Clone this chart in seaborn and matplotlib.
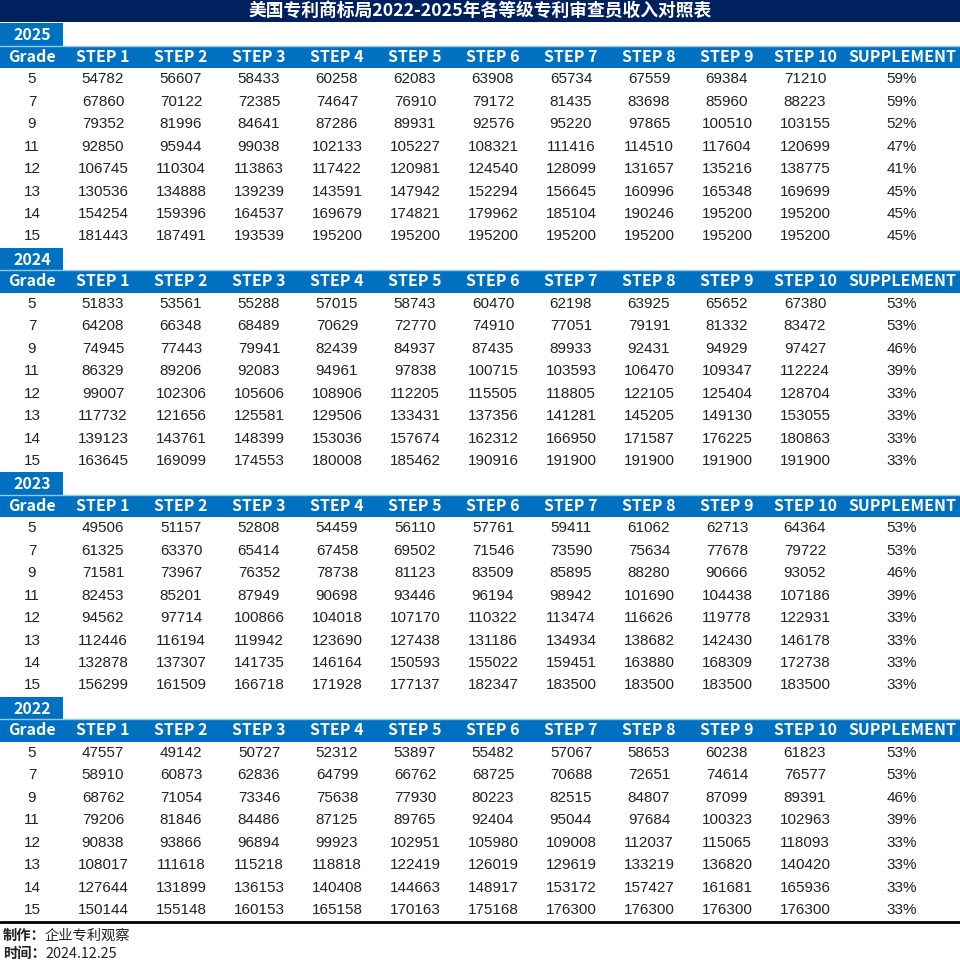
import numpy as np
import pandas as pd
import matplotlib
import matplotlib.pyplot as plt
import seaborn as sns
from matplotlib.colors import ListedColormap
from matplotlib.patches import Rectangle

sns.set_theme(style="white")
plt.rcParams["font.family"] = ["Liberation Sans", "Noto Sans CJK SC", "DejaVu Sans"]

title = "美国专利商标局2022-2025年各等级专利审查员收入对照表"
years = ["2025", "2024", "2023", "2022"]
grades = [5, 7, 9, 11, 12, 13, 14, 15]
step_labels = ["STEP %d" % i for i in range(1, 11)]

steps_2025 = [
    [54782, 56607, 58433, 60258, 62083, 63908, 65734, 67559, 69384, 71210],
    [67860, 70122, 72385, 74647, 76910, 79172, 81435, 83698, 85960, 88223],
    [79352, 81996, 84641, 87286, 89931, 92576, 95220, 97865, 100510, 103155],
    [92850, 95944, 99038, 102133, 105227, 108321, 111416, 114510, 117604, 120699],
    [106745, 110304, 113863, 117422, 120981, 124540, 128099, 131657, 135216, 138775],
    [130536, 134888, 139239, 143591, 147942, 152294, 156645, 160996, 165348, 169699],
    [154254, 159396, 164537, 169679, 174821, 179962, 185104, 190246, 195200, 195200],
    [181443, 187491, 193539, 195200, 195200, 195200, 195200, 195200, 195200, 195200],
]
steps_2024 = [
    [51833, 53561, 55288, 57015, 58743, 60470, 62198, 63925, 65652, 67380],
    [64208, 66348, 68489, 70629, 72770, 74910, 77051, 79191, 81332, 83472],
    [74945, 77443, 79941, 82439, 84937, 87435, 89933, 92431, 94929, 97427],
    [86329, 89206, 92083, 94961, 97838, 100715, 103593, 106470, 109347, 112224],
    [99007, 102306, 105606, 108906, 112205, 115505, 118805, 122105, 125404, 128704],
    [117732, 121656, 125581, 129506, 133431, 137356, 141281, 145205, 149130, 153055],
    [139123, 143761, 148399, 153036, 157674, 162312, 166950, 171587, 176225, 180863],
    [163645, 169099, 174553, 180008, 185462, 190916, 191900, 191900, 191900, 191900],
]
steps_2023 = [
    [49506, 51157, 52808, 54459, 56110, 57761, 59411, 61062, 62713, 64364],
    [61325, 63370, 65414, 67458, 69502, 71546, 73590, 75634, 77678, 79722],
    [71581, 73967, 76352, 78738, 81123, 83509, 85895, 88280, 90666, 93052],
    [82453, 85201, 87949, 90698, 93446, 96194, 98942, 101690, 104438, 107186],
    [94562, 97714, 100866, 104018, 107170, 110322, 113474, 116626, 119778, 122931],
    [112446, 116194, 119942, 123690, 127438, 131186, 134934, 138682, 142430, 146178],
    [132878, 137307, 141735, 146164, 150593, 155022, 159451, 163880, 168309, 172738],
    [156299, 161509, 166718, 171928, 177137, 182347, 183500, 183500, 183500, 183500],
]
steps_2022 = [
    [47557, 49142, 50727, 52312, 53897, 55482, 57067, 58653, 60238, 61823],
    [58910, 60873, 62836, 64799, 66762, 68725, 70688, 72651, 74614, 76577],
    [68762, 71054, 73346, 75638, 77930, 80223, 82515, 84807, 87099, 89391],
    [79206, 81846, 84486, 87125, 89765, 92404, 95044, 97684, 100323, 102963],
    [90838, 93866, 96894, 99923, 102951, 105980, 109008, 112037, 115065, 118093],
    [108017, 111618, 115218, 118818, 122419, 126019, 129619, 133219, 136820, 140420],
    [127644, 131899, 136153, 140408, 144663, 148917, 153172, 157427, 161681, 165936],
    [150144, 155148, 160153, 165158, 170163, 175168, 176300, 176300, 176300, 176300],
]
supp_2025 = [59, 59, 52, 47, 41, 45, 45, 45]
supp_2024 = [53, 53, 46, 39, 33, 33, 33, 33]
supp_2023 = [53, 53, 46, 39, 33, 33, 33, 33]
supp_2022 = [53, 53, 46, 39, 33, 33, 33, 33]

maker = "企业专利观察"
date = "2024.12.25"

steps_all = [steps_2025, steps_2024, steps_2023, steps_2022]
supp_all = [supp_2025, supp_2024, supp_2023, supp_2022]

NAVY = "#002060"
BLUE = "#0070C0"
TXT = "#222222"
CJK = ["Noto Sans CJK SC", "DejaVu Sans"]

# layout (pixels)
W, H = 960, 966
top = 23.2
row_h = 22.45
grade_w = 64
step_w = 78
supp_x0 = grade_w + 10 * step_w

# full table as one frame: year row + header row (NaN) + 8 data rows per block
rows = []
for block in steps_all:
    rows.append([np.nan] * 10)
    rows.append([np.nan] * 10)
    rows.extend(block)
table = pd.DataFrame(rows, columns=step_labels, dtype=float)
n_rows = len(table)

fig = plt.figure(figsize=(W / 100, H / 100), dpi=100)
ax = fig.add_axes([0, 0, 1, 1])
ax.set_xlim(0, W)
ax.set_ylim(H, 0)
ax.axis("off")

# title bar
ax.add_patch(Rectangle((0, 0), W, top - 1, color=NAVY, lw=0))
ax.text(W / 2, (top - 1) / 2, title, color="white", fontsize=12.8,
        fontweight="bold", ha="center", va="center", family=CJK)

for b, year in enumerate(years):
    y0 = top + b * 10 * row_h
    # year cell
    ax.add_patch(Rectangle((0, y0), grade_w - 1, row_h, color=BLUE, lw=0))
    ax.text(grade_w / 2, y0 + row_h / 2 + 1, year, color="white", fontsize=11.5,
            fontweight="bold", ha="center", va="center", family=CJK)
    ax.plot([0, W], [y0 + row_h, y0 + row_h], color="#9dc3e6", lw=1)
    # header row
    yh = y0 + row_h
    ax.add_patch(Rectangle((0, yh), W, row_h, color=BLUE, lw=0))
    hdr_kw = dict(color="white", fontsize=11.5, fontweight="bold", ha="center",
                  va="center", family=CJK)
    ax.text(grade_w / 2, yh + row_h / 2, "Grade", **hdr_kw)
    for k, lab in enumerate(step_labels):
        ax.text(grade_w + step_w * (k + 0.5), yh + row_h / 2, lab, **hdr_kw)
    ax.text((supp_x0 + W) / 2, yh + row_h / 2, "SUPPLEMENT", **hdr_kw)
    # grade and supplement columns
    for r, (g, s) in enumerate(zip(grades, supp_all[b])):
        yr = yh + row_h * (r + 1.5)
        ax.text(grade_w / 2, yr, str(g), color=TXT, fontsize=11, ha="center", va="center")
        ax.text((supp_x0 + W) / 2, yr, "%d%%" % s, color=TXT, fontsize=11,
                ha="center", va="center")

# bottom rule
y_end = top + n_rows * row_h
ax.plot([0, W], [y_end + 1, y_end + 1], color="black", lw=2)

# footer
ax.text(3, y_end + 15, "制作：", fontsize=10.3, fontweight="bold", color=TXT,
        va="center", family=CJK)
ax.text(45, y_end + 15, maker, fontsize=10.3, color=TXT, va="center", family=CJK)
ax.text(3, y_end + 33, "时间：", fontsize=10.3, fontweight="bold", color=TXT,
        va="center", family=CJK)
ax.text(45, y_end + 33, date, fontsize=10.3, color=TXT, va="center", family=CJK)

# step values as an all-white annotated heatmap
hm = fig.add_axes([grade_w / W, 1 - y_end / H, 10 * step_w / W, n_rows * row_h / H])
sns.heatmap(table, ax=hm, cmap=ListedColormap(["white"]), cbar=False,
            annot=True, fmt=".0f", annot_kws={"color": TXT, "fontsize": 11},
            xticklabels=False, yticklabels=False)
hm.patch.set_alpha(0)
for sp in hm.spines.values():
    sp.set_visible(False)

fig.savefig("out.png", dpi=100)
